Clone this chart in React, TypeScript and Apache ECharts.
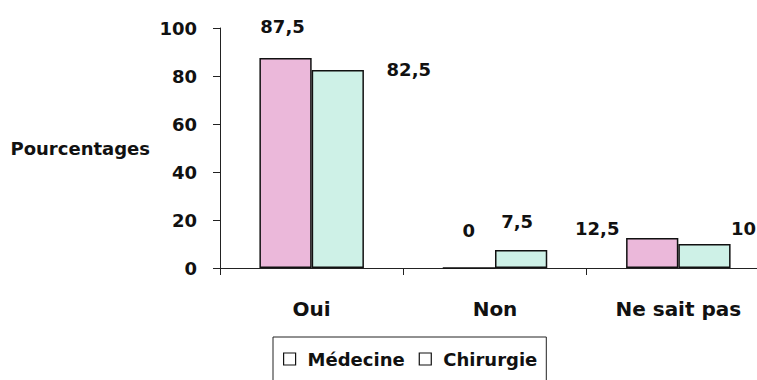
import React, { useEffect, useRef } from "react";
import * as echarts from "echarts";

const categories = ["Oui", "Non", "Ne sait pas"];
const seriesNames = ["Médecine", "Chirurgie"];
const medecine = [87.5, 0, 12.5];
const chirurgie = [82.5, 7.5, 10];
const yTicks = [0, 20, 40, 60, 80, 100];

// label placement tweaks (px offsets from default 'top' position)
const medecineLabelOffsets = [[-3, -18], [0, -23], [-55, 4]];
const chirurgieLabelOffsets = [[71, 13], [-4, -15], [39, -2]];

const fmt = (v: number) => String(v).replace(".", ",");

export default function App() {
  const ref = useRef<HTMLDivElement>(null);
  useEffect(() => {
    if (!ref.current) return;
    const chart = echarts.init(ref.current, undefined, { renderer: "svg" });
    const labelFont = {
      fontFamily: "DejaVu Sans",
      fontWeight: "bold" as const,
      fontSize: 18,
      color: "#111",
    };
    const mk = (name: string, vals: number[], offs: number[][], color: string) => ({
      name,
      type: "bar",
      barWidth: "28.5%",
      barGap: "0%",
      itemStyle: { color, borderColor: "#111", borderWidth: 1.5 },
      label: {
        show: true,
        position: "top",
        formatter: (p: any) => fmt(p.value),
        ...labelFont,
      },
      data: vals.map((v, i) => ({
        value: v,
        label: { offset: offs[i] },
      })),
    });
    chart.setOption({
      animation: false,
      backgroundColor: "#fff",
      grid: { left: 220, top: 28, bottom: 112, right: 0, containLabel: false },
      legend: {
        left: 273,
        top: 337,
        padding: [13, 9, 30, 10],
        borderColor: "#222",
        borderWidth: 1,
        itemWidth: 12,
        itemHeight: 12,
        itemGap: 14,
        icon: "rect",
        textStyle: {
          fontFamily: "DejaVu Sans",
          fontWeight: "bold",
          fontSize: 18,
          color: "#111",
          padding: [0, 0, 0, 7],
        },
        data: seriesNames.map((n) => ({
          name: n,
          itemStyle: { color: "#fff", borderColor: "#111", borderWidth: 1.2 },
        })),
      },
      xAxis: {
        type: "category",
        data: categories,
        axisLine: { lineStyle: { color: "#222", width: 1 } },
        axisTick: { show: true, length: 7, lineStyle: { color: "#222" } },
        axisLabel: {
          margin: 31,
          fontFamily: "DejaVu Sans",
          fontWeight: "bold",
          fontSize: 20,
          color: "#111",
        },
      },
      yAxis: {
        type: "value",
        min: yTicks[0],
        max: yTicks[yTicks.length - 1],
        interval: 20,
        name: "Pourcentages",
        nameLocation: "middle",
        nameRotate: 0,
        nameGap: 70,
        nameTextStyle: {
          fontFamily: "DejaVu Sans",
          fontWeight: "bold",
          fontSize: 18,
          color: "#111",
          align: "right",
        },
        splitLine: { show: false },
        axisLine: { show: true, lineStyle: { color: "#222", width: 1 } },
        axisTick: { show: true, length: 7, lineStyle: { color: "#222" } },
        axisLabel: { margin: 23, ...labelFont },
      },
      series: [
        mk(seriesNames[0], medecine, medecineLabelOffsets, "#EBB8DA"),
        mk(seriesNames[1], chirurgie, chirurgieLabelOffsets, "#CEF1E7"),
      ],
    });
    return () => chart.dispose();
  }, []);
  return (
    <div style={{ position: "absolute", left: 0, top: 0, width: 757, height: 380, overflow: "hidden" }}>
      <div ref={ref} style={{ width: 770, height: 380 }} />
    </div>
  );
}
